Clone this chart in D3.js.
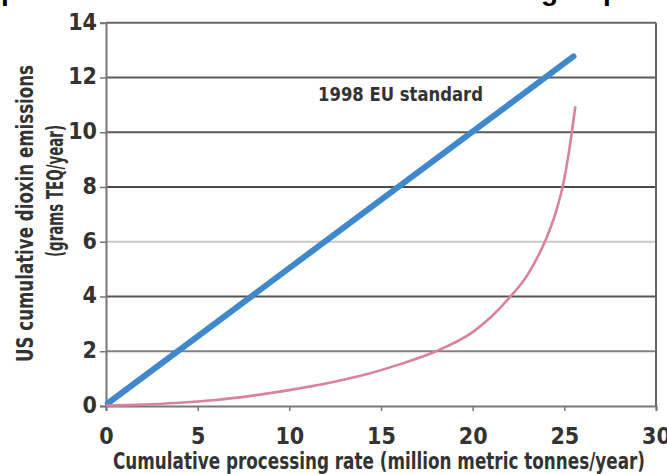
<!DOCTYPE html>
<html>
<head>
<meta charset="utf-8">
<script src="https://cdn.jsdelivr.net/npm/d3@7"></script>
<style>
  html, body { margin: 0; padding: 0; background: #fff; overflow: hidden; }
  svg { display: block; }
  .cond { font-family: "Liberation Sans Narrow", "DejaVu Sans Condensed", "Roboto Condensed", sans-serif; font-weight: bold; font-stretch: condensed; }
</style>
</head>
<body>
<svg id="chart" width="667" height="474"></svg>
<script>
// ---- data ----
const xTicks = [0, 5, 10, 15, 20, 25, 30];
const yTicks = [0, 2, 4, 6, 8, 10, 12, 14];
const euStandardX = [0.1, 25.5];
const euStandardY = [0.1, 12.77];
const curveX = [0, 2, 4, 6, 8, 10, 12, 14, 16, 18, 20, 21, 22, 23, 24, 24.5, 25, 25.3, 25.6];
const curveY = [0.02, 0.05, 0.12, 0.22, 0.38, 0.58, 0.82, 1.12, 1.52, 2.0, 2.7, 3.25, 3.95, 4.8, 6.1, 7.0, 8.3, 9.5, 10.95];
const seriesLabel = "1998 EU standard";
const xTitle = "Cumulative processing rate (million metric tonnes/year)";
const yTitle1 = "US cumulative dioxin emissions";
const yTitle2 = "(grams TEQ/year)";

// ---- styles ----
const gridColor = {2: "#808080", 4: "#555", 6: "#c8c8c8", 8: "#4a4a4a", 10: "#5a5a5a", 12: "#5a5a5a"};
const textColor = "#333";

const svg = d3.select("#chart");
const mLeft = 106, mRight = 656, mTop = 22.7, mBottom = 406;
const x = d3.scaleLinear().domain([0, 30]).range([mLeft, mRight]);
const y = d3.scaleLinear().domain([0, 14]).range([mBottom, mTop]);

// clipped title (only descenders visible at the top)
const title = svg.append("g").attr("font-family", "Liberation Sans, Arial, sans-serif")
  .attr("font-weight", "bold").attr("font-size", 28).attr("fill", "#000");
title.append("text").attr("x", 1).attr("y", 0).text("p");
title.append("text").attr("x", 541).attr("y", 0).text("g");
title.append("text").attr("x", 603).attr("y", 0).text("p");

// gridlines
svg.append("g").selectAll("line")
  .data(yTicks.filter(d => d > 0 && d < 14))
  .join("line")
  .attr("x1", mLeft).attr("x2", mRight)
  .attr("y1", d => y(d)).attr("y2", d => y(d))
  .attr("stroke", d => gridColor[d]).attr("stroke-width", 2);

// frame: top & right
svg.append("line").attr("x1", mLeft).attr("x2", mRight).attr("y1", y(14)).attr("y2", y(14))
  .attr("stroke", "#666").attr("stroke-width", 2);
svg.append("line").attr("x1", mRight).attr("x2", mRight).attr("y1", y(14)).attr("y2", y(0))
  .attr("stroke", "#666").attr("stroke-width", 2);

// axes
const xAxis = svg.append("g").attr("transform", `translate(0,${mBottom})`)
  .call(d3.axisBottom(x).tickValues(xTicks).tickSize(5).tickPadding(17).tickFormat(d3.format("d")));
const yAxis = svg.append("g").attr("transform", `translate(${mLeft},0)`)
  .call(d3.axisLeft(y).tickValues(yTicks).tickSize(6).tickPadding(3).tickFormat(d3.format("d")));
[xAxis, yAxis].forEach(a => {
  a.select(".domain").attr("stroke", "#777").attr("stroke-width", 2);
  a.selectAll(".tick line").attr("stroke", "#777").attr("stroke-width", 1.5);
  a.selectAll(".tick text").attr("class", "cond").attr("font-size", 23).attr("fill", textColor);
});
yAxis.selectAll(".tick text").attr("dy", "0.28em");

// blue line
svg.append("path")
  .datum(d3.zip(euStandardX, euStandardY))
  .attr("d", d3.line().x(d => x(d[0])).y(d => y(d[1])))
  .attr("fill", "none").attr("stroke", "#3f88cc").attr("stroke-width", 6).attr("stroke-linecap", "round");

// pink curve
svg.append("path")
  .datum(d3.zip(curveX, curveY))
  .attr("d", d3.line().curve(d3.curveMonotoneX).x(d => x(d[0])).y(d => y(d[1])))
  .attr("fill", "none").attr("stroke", "#d9829e").attr("stroke-width", 2.6);

// label
svg.append("text").attr("class", "cond").attr("x", 318).attr("y", 101)
  .attr("font-size", 19).attr("fill", textColor)
  .attr("textLength", 165).attr("lengthAdjust", "spacingAndGlyphs").text(seriesLabel);

// x title
svg.append("text").attr("class", "cond").attr("x", 113).attr("y", 469)
  .attr("font-size", 23).attr("fill", textColor)
  .attr("textLength", 532).attr("lengthAdjust", "spacingAndGlyphs").text(xTitle);

// y titles
svg.append("text").attr("class", "cond")
  .attr("transform", "translate(33,362) rotate(-90)")
  .attr("font-size", 23).attr("fill", textColor)
  .attr("textLength", 297).attr("lengthAdjust", "spacingAndGlyphs").text(yTitle1);
svg.append("text").attr("class", "cond")
  .attr("transform", "translate(63,257) rotate(-90)")
  .attr("font-size", 23).attr("fill", textColor)
  .attr("textLength", 132).attr("lengthAdjust", "spacingAndGlyphs").text(yTitle2);
</script>
</body>
</html>
